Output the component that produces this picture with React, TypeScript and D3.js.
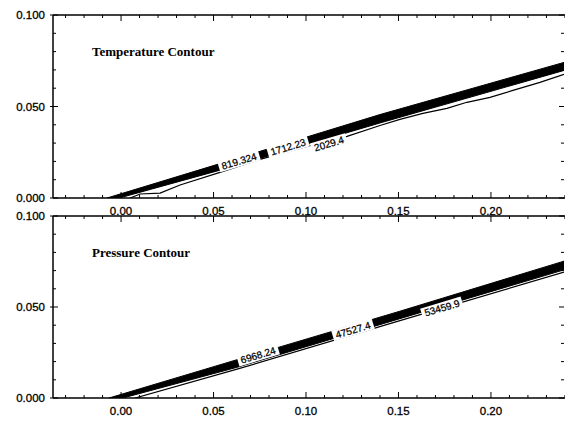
import React from "react";
import * as d3 from "d3";

// ---------- data (x, y in data units) ----------
// Temperature panel: dense contour band (upper and lower edges) and the outer thin contour
const tempBandUpperX = [-0.0076, 0.0535, 0.14, 0.2395];
const tempBandUpperY = [0.0, 0.0188, 0.0456, 0.0741];
const tempBandLowerX = [-0.0010, 0.0535, 0.14, 0.2395];
const tempBandLowerY = [0.0, 0.0152, 0.0410, 0.0697];
const tempThinX = [0.0049, 0.0103, 0.0211, 0.0319, 0.0535, 0.0751, 0.1005, 0.1222, 0.14, 0.1508, 0.1632, 0.1762, 0.187, 0.1995, 0.2119, 0.2265, 0.2395];
const tempThinY = [0.0, 0.0022, 0.0027, 0.0071, 0.0140, 0.0211, 0.0282, 0.0337, 0.0396, 0.0430, 0.0462, 0.0490, 0.0523, 0.0550, 0.0588, 0.0632, 0.0676];
const tempLabels = ["819.324", "1712.23", "2029.4"];
const tempLabelX = [0.0638, 0.0903, 0.1124];
const tempLabelY = [0.0202, 0.0279, 0.0297];

// Pressure panel
const presBandUpperX = [-0.0065, 0.0632, 0.1508, 0.2395];
const presBandUpperY = [0.0, 0.0212, 0.0477, 0.0752];
const presBandLowerX = [0.0010, 0.0632, 0.1508, 0.2395];
const presBandLowerY = [0.0, 0.0170, 0.0436, 0.0704];
const presThinX = [0.0076, 0.0632, 0.1508, 0.2395];
const presThinY = [0.0, 0.0160, 0.0425, 0.0692];
const presLabels = ["6968.24", "47527.4", "53459.9"];
const presLabelX = [0.0741, 0.1254, 0.1735];
const presLabelY = [0.0236, 0.0374, 0.0495];

// axes
const xDomain = [-0.0368, 0.2395];
const yDomain = [0, 0.1];
const xMajorTicks = [0.0, 0.05, 0.1, 0.15, 0.2];
const xTickLabels = ["0.00", "0.05", "0.10", "0.15", "0.20"];
const yMajorTicks = [0.0, 0.05, 0.1];
const yTickLabels = ["0.000", "0.050", "0.100"];

const W = 565;
const H = 421;
const LEFT = 53;
const RIGHT = 564;

type PanelProps = {
  top: number;
  bottom: number;
  title: string;
  upX: number[]; upY: number[];
  loX: number[]; loY: number[];
  thX: number[]; thY: number[];
  labels: string[]; labX: number[]; labY: number[];
};

const zip = (xs: number[], ys: number[]) => xs.map((x, i) => [x, ys[i]] as [number, number]);
const SANS = "Liberation Sans, Arial, sans-serif";

function Panel(p: PanelProps) {
  const x = d3.scaleLinear().domain(xDomain).range([LEFT, RIGHT]);
  const y = d3.scaleLinear().domain(yDomain).range([p.bottom, p.top]);
  const line = d3.line<[number, number]>().x(d => x(d[0])).y(d => y(d[1]));
  const up = zip(p.upX, p.upY);
  const lo = zip(p.loX, p.loY);
  const bandPts = [...up, ...lo.slice().reverse()];
  const bandPath = line(bandPts) + "Z";
  const thin = zip(p.thX, p.thY);

  const ang = (Math.atan2(y(up[up.length - 1][1]) - y(up[0][1]), x(up[up.length - 1][0]) - x(up[0][0])) * 180) / Math.PI;

  const minorX = d3.range(-0.03, 0.2401, 0.01).map(v => Math.round(v * 100) / 100);
  const minorY = d3.range(0, 0.1001, 0.01).map(v => Math.round(v * 100) / 100);
  const isMajor = (v: number, step: number) => Math.abs(v / step - Math.round(v / step)) < 1e-6;

  const sw = 1.5;
  return (
    <g>
      <defs>
        <clipPath id={"clip" + p.top}>
          <rect x={LEFT} y={p.top} width={RIGHT - LEFT} height={p.bottom - p.top} />
        </clipPath>
      </defs>
      <g clipPath={`url(#clip${p.top})`}>
        <path d={bandPath} fill="#000" stroke="#000" strokeWidth={1} strokeLinejoin="round" />
        <path d={line(thin) || ""} fill="none" stroke="#000" strokeWidth={1.2} />
      </g>
      {p.labels.map((t, i) => {
        const cx = x(p.labX[i]);
        const cy = y(p.labY[i]);
        const w = t.length * 5.6 + 3;
        return (
          <g key={t} transform={`translate(${cx},${cy}) rotate(${ang})`}>
            <rect x={-w / 2} y={-5.5} width={w} height={11} fill="#fff" />
            <text x={0} y={3.6} textAnchor="middle" fontFamily={SANS} fontSize={10} fill="#000" stroke="#000" strokeWidth={0.25}>{t}</text>
          </g>
        );
      })}
      <line x1={LEFT} x2={RIGHT + 1} y1={p.top} y2={p.top} stroke="#000" strokeWidth={sw} />
      <line x1={LEFT} x2={RIGHT + 1} y1={p.bottom} y2={p.bottom} stroke="#000" strokeWidth={sw} />
      <line x1={LEFT} x2={LEFT} y1={p.top} y2={p.bottom} stroke="#000" strokeWidth={sw} />
      {minorX.map(v => {
        const maj = isMajor(v, 0.05);
        const len = maj ? 6 : 3;
        return (
          <g key={"x" + v}>
            <line x1={x(v)} x2={x(v)} y1={p.top} y2={p.top + len} stroke="#000" strokeWidth={1} />
            <line x1={x(v)} x2={x(v)} y1={p.bottom} y2={p.bottom - len} stroke="#000" strokeWidth={1} />
          </g>
        );
      })}
      {minorY.map(v => {
        const maj = isMajor(v, 0.05);
        const len = maj ? 5 : 3;
        return (
          <g key={"y" + v}>
            <line x1={LEFT - (maj ? 3 : 0)} x2={LEFT + len} y1={y(v)} y2={y(v)} stroke="#000" strokeWidth={1} />
            <line x1={RIGHT} x2={RIGHT - len} y1={y(v)} y2={y(v)} stroke="#000" strokeWidth={1} />
          </g>
        );
      })}
      {yMajorTicks.map((v, i) => (
        <text key={"yl" + v} x={LEFT - 8} y={y(v) + 4} textAnchor="end" fontFamily={SANS} fontSize={11.5} fill="#000" stroke="#000" strokeWidth={0.3}>{yTickLabels[i]}</text>
      ))}
      {xMajorTicks.map((v, i) => (
        <text key={"xl" + v} x={x(v)} y={p.bottom + 17} textAnchor="middle" fontFamily={SANS} fontSize={11.5} fill="#000" stroke="#000" strokeWidth={0.3}>{xTickLabels[i]}</text>
      ))}
      <text x={92} y={p.top + 41} fontFamily="Liberation Serif, Times New Roman, serif" fontWeight="bold" fontSize={13} fill="#000">{p.title}</text>
    </g>
  );
}

export default function App() {
  return (
    <svg width={W} height={H} style={{ position: "absolute", left: 0, top: 0, display: "block", background: "#fff" }}>
      <rect x={0} y={0} width={W} height={H} fill="#fff" />
      <Panel top={15} bottom={198} title="Temperature Contour"
        upX={tempBandUpperX} upY={tempBandUpperY} loX={tempBandLowerX} loY={tempBandLowerY}
        thX={tempThinX} thY={tempThinY} labels={tempLabels} labX={tempLabelX} labY={tempLabelY} />
      <Panel top={216} bottom={398} title="Pressure Contour"
        upX={presBandUpperX} upY={presBandUpperY} loX={presBandLowerX} loY={presBandLowerY}
        thX={presThinX} thY={presThinY} labels={presLabels} labX={presLabelX} labY={presLabelY} />
    </svg>
  );
}
